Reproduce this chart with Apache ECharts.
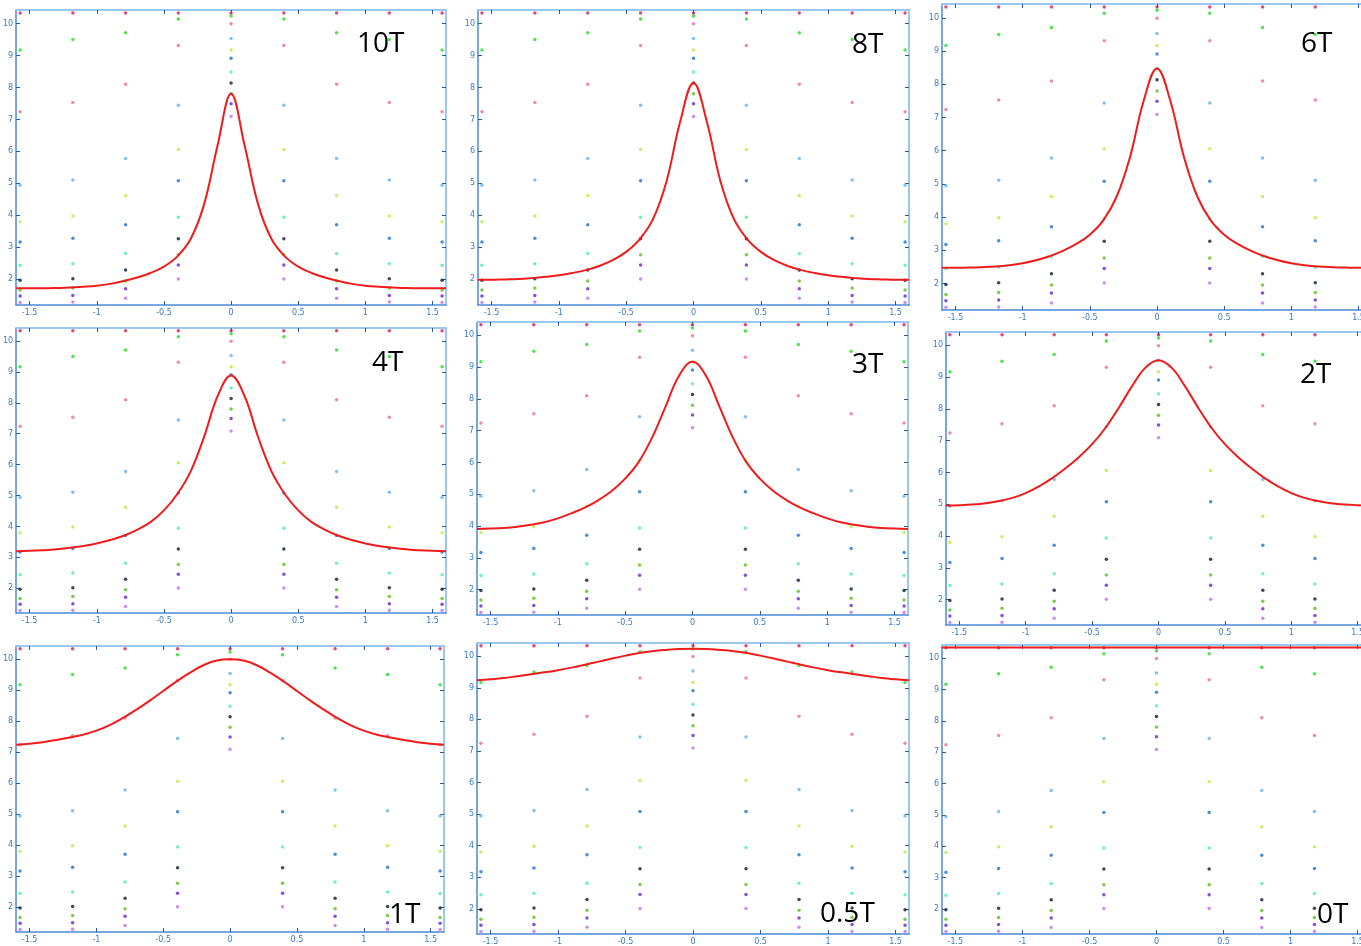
<!DOCTYPE html>
<html>
<head>
<meta charset="utf-8">
<script src="https://cdn.jsdelivr.net/npm/echarts@6/dist/echarts.min.js"></script>
<style>
html,body{margin:0;padding:0;background:#fff;overflow:hidden;}
#c{width:1380px;height:946px;}
</style>
</head>
<body>
<div id="c"></div>
<script>
// ---- data ----
const panelLabels = ['10T','8T','6T','4T','3T','2T','1T','0.5T','0T'];
const xTickValues = [-1.5,-1,-0.5,0,0.5,1,1.5];
const yTickValues = [2,3,4,5,6,7,8,9,10];
const dotX = [-1.5708,-1.1781,-0.7854,-0.3927,0,0.3927,0.7854,1.1781,1.5708];

const band1  = [10.33,10.33,10.33,10.33,10.33,10.33,10.33,10.33,10.33];
const band2  = [9.17,9.50,9.71,10.14,10.23,10.14,9.71,9.50,9.17];
const band3  = [7.24,7.53,8.10,9.31,9.99,9.31,8.10,7.53,7.24];
const band4  = [4.94,5.11,5.78,7.44,9.53,7.44,5.78,5.11,4.94];
const band5  = [3.80,3.98,4.62,6.06,9.17,6.06,4.62,3.98,3.80];
const band6  = [3.17,3.29,3.71,5.08,8.91,5.08,3.71,3.29,3.17];
const band7  = [2.44,2.49,2.81,3.94,8.48,3.94,2.81,2.49,2.44];
const band8  = [1.97,2.02,2.29,3.27,8.14,3.27,2.29,2.02,1.97];
const band9  = [1.67,1.73,1.95,2.77,7.80,2.77,1.95,1.73,1.67];
const band10 = [1.48,1.50,1.71,2.45,7.49,2.45,1.71,1.50,1.48];
const band11 = [1.28,1.29,1.41,2.01,7.09,2.01,1.41,1.29,1.28];

const curveX = [-1.6,-1.5,-1.4,-1.3,-1.2,-1.1,-1.0,-0.9,-0.8,-0.7,-0.6,-0.5,-0.4,-0.3,-0.2,-0.1,0,0.1,0.2,0.3,0.4,0.5,0.6,0.7,0.8,0.9,1.0,1.1,1.2,1.3,1.4,1.5,1.6];
const curve10T = [1.72,1.72,1.72,1.73,1.75,1.77,1.80,1.86,1.95,2.06,2.20,2.40,2.72,3.27,4.36,6.20,7.80,6.20,4.36,3.27,2.72,2.40,2.20,2.06,1.95,1.86,1.80,1.77,1.75,1.73,1.72,1.72,1.72];
const curve8T  = [1.99,1.99,2.00,2.01,2.04,2.08,2.13,2.20,2.29,2.42,2.60,2.86,3.25,3.89,5.07,6.91,8.14,6.91,5.07,3.89,3.25,2.86,2.60,2.42,2.29,2.20,2.13,2.08,2.04,2.01,2.00,1.99,1.99];
const curve6T  = [2.47,2.47,2.48,2.49,2.51,2.55,2.61,2.70,2.82,2.98,3.19,3.47,3.90,4.62,5.82,7.49,8.48,7.49,5.82,4.62,3.90,3.47,3.19,2.98,2.82,2.70,2.61,2.55,2.51,2.49,2.48,2.47,2.47];
const curve4T  = [3.20,3.21,3.23,3.26,3.31,3.37,3.45,3.56,3.70,3.89,4.14,4.52,5.05,5.79,6.91,8.22,8.88,8.22,6.91,5.79,5.05,4.52,4.14,3.89,3.70,3.56,3.45,3.37,3.31,3.26,3.23,3.21,3.20];
const curve3T  = [3.91,3.92,3.94,3.98,4.04,4.12,4.24,4.40,4.58,4.81,5.10,5.49,6.01,6.78,7.76,8.73,9.17,8.73,7.76,6.78,6.01,5.49,5.10,4.81,4.58,4.40,4.24,4.12,4.04,3.98,3.94,3.92,3.91];
const curve2T  = [4.96,4.97,4.99,5.03,5.10,5.20,5.35,5.56,5.82,6.13,6.48,6.89,7.40,8.03,8.71,9.29,9.53,9.29,8.71,8.03,7.40,6.89,6.48,6.13,5.82,5.56,5.35,5.20,5.10,5.03,4.99,4.97,4.96];
const curve1T  = [7.24,7.27,7.32,7.39,7.47,7.56,7.69,7.87,8.10,8.37,8.66,8.97,9.28,9.56,9.80,9.95,9.99,9.95,9.80,9.56,9.28,8.97,8.66,8.37,8.10,7.87,7.69,7.56,7.47,7.39,7.32,7.27,7.24];
const curve05T = [9.24,9.27,9.31,9.37,9.43,9.49,9.56,9.64,9.73,9.83,9.93,10.02,10.10,10.16,10.20,10.23,10.24,10.23,10.20,10.16,10.10,10.02,9.93,9.83,9.73,9.64,9.56,9.49,9.43,9.37,9.31,9.27,9.24];
const curve0T  = [10.34,10.34,10.34,10.34,10.34,10.34,10.34,10.34,10.34,10.34,10.34,10.34,10.34,10.34,10.34,10.34,10.34,10.34,10.34,10.34,10.34,10.34,10.34,10.34,10.34,10.34,10.34,10.34,10.34,10.34,10.34,10.34,10.34];

// ---- styling / layout ----
const bands = [band1,band2,band3,band4,band5,band6,band7,band8,band9,band10,band11];
const bandColors = ['#d81b60','#22e022','#f06a9e','#64b0f2','#b4f03c','#1e70d4','#4ef0a4','#0c1c30','#5cbf1a','#6a22d4','#c070f0'];
const curves = [curve10T,curve8T,curve6T,curve4T,curve3T,curve2T,curve1T,curve05T,curve0T];
const boxes = [
  [13,10,433,295],[478,10,431,295],[942,4,430,306],
  [13,328,433,285],[477,322,431,293],[946,332,425,293],
  [14,646,430,286],[477,643,432,293],[942,645,429,292]
];
const labelPos = [[357,44],[852,45],[1301,44],[372,363],[852,365],[1300,375],[389,915],[820,914],[1317,915]];

const X_MIN=-1.6, X_MAX=1.6, Y_MIN=1.2, Y_MAX=10.42;
const darkLine='#4a8ad8', lightLine='#9cc8f0', tickCol='#2a5a9a', labCol='#3a7ac8';

const grids=[], xAxes=[], yAxes=[], series=[], graphics=[];
boxes.forEach((b,p)=>{
  grids.push({left:b[0],top:b[1],width:b[2],height:b[3],containLabel:false});
  const xb = {gridIndex:p,type:'value',min:X_MIN,max:X_MAX,position:'bottom',
    axisLine:{onZero:false,lineStyle:{color:darkLine,width:1.5}},
    axisTick:{inside:true,length:4,customValues:xTickValues,lineStyle:{color:tickCol}},
    axisLabel:{customValues:xTickValues,fontSize:8,color:labCol,margin:4,fontFamily:'DejaVu Sans'},
    splitLine:{show:false}};
  const xt = {gridIndex:p,type:'value',min:X_MIN,max:X_MAX,position:'top',
    axisLine:{onZero:false,lineStyle:{color:lightLine,width:2}},
    axisTick:{inside:true,length:4,customValues:xTickValues,lineStyle:{color:tickCol}},
    axisLabel:{show:false},splitLine:{show:false}};
  const yl = {gridIndex:p,type:'value',min:Y_MIN,max:Y_MAX,position:'left',
    axisLine:{onZero:false,lineStyle:{color:darkLine,width:1.5}},
    axisTick:{inside:true,length:4,customValues:yTickValues,lineStyle:{color:tickCol}},
    axisLabel:{customValues:yTickValues,fontSize:8,color:labCol,margin:3,fontFamily:'DejaVu Sans'},
    splitLine:{show:false}};
  const yr = {gridIndex:p,type:'value',min:Y_MIN,max:Y_MAX,position:'right',
    axisLine:{onZero:false,lineStyle:{color:lightLine,width:2}},
    axisTick:{inside:true,length:4,customValues:yTickValues,lineStyle:{color:tickCol}},
    axisLabel:{show:false},splitLine:{show:false}};
  xAxes.push(xb,xt); yAxes.push(yl,yr);
  bands.forEach((bv,bi)=>{
    series.push({type:'scatter',xAxisIndex:2*p,yAxisIndex:2*p,silent:true,z:2,
      symbol:'circle',symbolSize:3.5,itemStyle:{color:bandColors[bi]},
      data:dotX.map((x,i)=>[x,bv[i]])});
  });
  series.push({type:'line',xAxisIndex:2*p,yAxisIndex:2*p,silent:true,z:3,
    smooth:0.4,showSymbol:false,symbol:'none',
    lineStyle:{color:'#ee1c1c',width:2},
    data:curveX.map((x,i)=>[x,curves[p][i]])});
  graphics.push({type:'text',x:labelPos[p][0],y:labelPos[p][1],z:100,
    style:{text:panelLabels[p],font:'28px "Open Sans"',fill:'#000',verticalAlign:'middle',align:'left'}});
});

const chart = echarts.init(document.getElementById('c'),null,{renderer:'canvas'});
chart.setOption({animation:false,backgroundColor:'#fff',
  grid:grids,xAxis:xAxes,yAxis:yAxes,series:series,graphic:graphics});
</script>
</body>
</html>
